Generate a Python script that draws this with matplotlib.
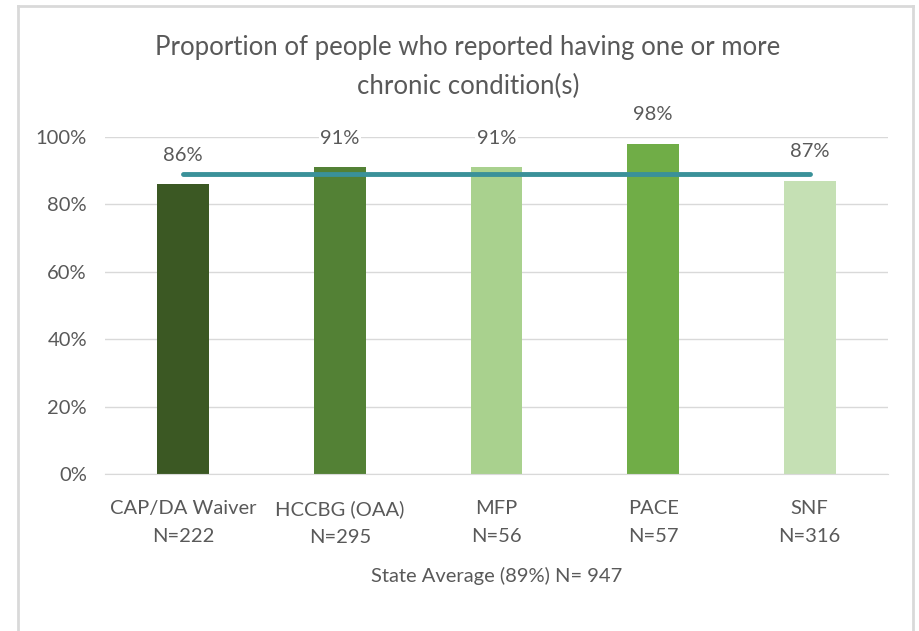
import matplotlib
matplotlib.use("Agg")
import matplotlib.pyplot as plt
from matplotlib.lines import Line2D

programs = ["CAP/DA Waiver", "HCCBG (OAA)", "MFP", "PACE", "SNF"]
sample_n = [222, 295, 56, 57, 316]
percent = [86, 91, 91, 98, 87]
state_avg = 89
state_n = 947
bar_colors = ["#3B5823", "#538135", "#A9D18E", "#70AD47", "#C5E0B4"]

plt.rcParams['font.family'] = ['Lato', 'DejaVu Sans']
txt = "#595959"

fig = plt.figure(figsize=(9.2, 6.31), dpi=100)
ax = fig.add_axes([105/920, 1-474/631, 783/920, 337/631])

x = range(len(programs))
ax.bar(x, percent, width=0.33, color=bar_colors, zorder=2)
ax.plot([0, len(programs)-1], [state_avg, state_avg], color="#3A9199", lw=3.5,
        solid_capstyle="round", zorder=3)

for i, v in enumerate(percent):
    ax.text(i, v + 8.6, f"{v}%", ha="center", va="center", fontsize=14.5, color=txt, zorder=4,
            bbox=dict(facecolor="white", edgecolor="none", pad=1))

ax.set_xlim(-0.5, len(programs)-0.5)
ax.set_ylim(0, 100)
ax.set_yticks(range(0, 101, 20))
ax.set_yticklabels([f"{t}%" for t in range(0, 101, 20)])
ax.set_xticks(list(x))
ax.set_xticklabels([f"{p}\nN={n}" for p, n in zip(programs, sample_n)], linespacing=1.75)
ax.tick_params(length=0, labelsize=14.5, colors=txt)
ax.tick_params(axis="y", pad=13)
ax.tick_params(axis="x", pad=19)
ax.grid(axis="y", color="#D9D9D9", lw=1, zorder=0)
for s in ["top", "right", "left"]:
    ax.spines[s].set_visible(False)
ax.spines["bottom"].set_color("#D9D9D9")
ax.set_xlabel(f"State Average ({state_avg}%) N= {state_n}", fontsize=14.5, color=txt, labelpad=15)

fig.text(468/920, 1-67/631, "Proportion of people who reported having one or more\nchronic condition(s)",
         ha="center", va="center", fontsize=18.5, color=txt, linespacing=1.65)

# chart frame
fc = "#D9D9D9"
fig.add_artist(Line2D([18/920, 913/920], [1-6/631, 1-6/631], transform=fig.transFigure, color=fc, lw=2))
fig.add_artist(Line2D([18/920, 18/920], [0, 1-6/631], transform=fig.transFigure, color=fc, lw=2))
fig.add_artist(Line2D([913/920, 913/920], [0, 1-6/631], transform=fig.transFigure, color=fc, lw=2))

fig.savefig("out.png", dpi=100)
